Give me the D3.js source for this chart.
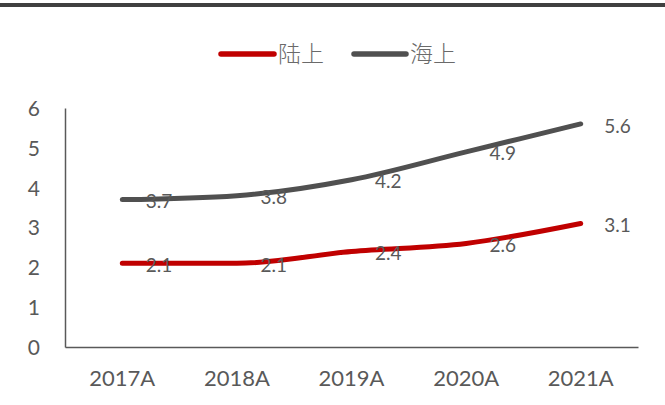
<!DOCTYPE html>
<html>
<head>
<meta charset="utf-8">
<script src="https://cdn.jsdelivr.net/npm/d3@7"></script>
<style>
  html, body { margin: 0; padding: 0; background: #fff; }
  svg { display: block; }
</style>
</head>
<body>
<svg id="chart" width="665" height="405"></svg>
<script>
const categories = ["2017A", "2018A", "2019A", "2020A", "2021A"];
const seriesNames = ["陆上", "海上"];
const landValues = [2.1, 2.1, 2.4, 2.6, 3.1];
const seaValues = [3.7, 3.8, 4.2, 4.9, 5.6];
const yTicks = [0, 1, 2, 3, 4, 5, 6];
const colors = ["#C00000", "#505050"];

(function () {
const svg = d3.select("#chart");
const W = 665, H = 405;
const mLeft = 65, mRight = 638, mTop = 108, mBottom = 347;
const textColor = "#595959";
const font = "Lato, 'Open Sans', sans-serif";

// top bar
svg.append("rect").attr("x", 0).attr("y", 3).attr("width", W).attr("height", 4).attr("fill", "#404040");

const x = d3.scaleBand().domain(categories).range([mLeft, mRight]);
const y = d3.scaleLinear().domain([0, 6]).range([mBottom, mTop]);

// y axis
const yAxis = svg.append("g").attr("transform", `translate(${mLeft},0)`)
  .call(d3.axisLeft(y).tickValues(yTicks).tickSize(0).tickPadding(25).tickFormat(d3.format("d")));
yAxis.select(".domain").attr("stroke", "#595959").attr("stroke-width", 1.5);
yAxis.selectAll("text").attr("fill", textColor).attr("font-size", 21).attr("font-family", font).attr("dy", "0.35em");

// x axis
const xAxis = svg.append("g").attr("transform", `translate(0,${mBottom})`)
  .call(d3.axisBottom(x).tickSize(0).tickPadding(23));
xAxis.select(".domain").attr("stroke", "#595959").attr("stroke-width", 1.5);
xAxis.selectAll("text").attr("fill", textColor).attr("font-size", 22).attr("font-family", font);

const series = [landValues, seaValues];
const line = d3.line()
  .x((d, i) => x(categories[i]) + x.bandwidth() / 2)
  .y(d => y(d))
  .curve(d3.curveMonotoneX);

series.forEach((vals, si) => {
  svg.append("path").datum(vals)
    .attr("d", line)
    .attr("fill", "none")
    .attr("stroke", colors[si])
    .attr("stroke-width", 5)
    .attr("stroke-linecap", "round")
    .attr("stroke-linejoin", "round");
});

series.forEach((vals, si) => {
  svg.append("g").selectAll("text").data(vals).join("text")
    .attr("x", (d, i) => x(categories[i]) + x.bandwidth() / 2 + 23.5)
    .attr("y", d => y(d) + 2)
    .attr("dy", "0.35em")
    .attr("fill", textColor)
    .attr("font-size", 19)
    .attr("font-family", font)
    .text(d => d3.format(".1f")(d));
});

// legend
const legendItems = [
  { name: seriesNames[0], color: colors[0], x1: 221, x2: 274, tx: 278 },
  { name: seriesNames[1], color: colors[1], x1: 354, x2: 406, tx: 410 }
];
const lg = svg.append("g");
legendItems.forEach(it => {
  lg.append("line").attr("x1", it.x1).attr("x2", it.x2).attr("y1", 54).attr("y2", 54)
    .attr("stroke", it.color).attr("stroke-width", 5.5).attr("stroke-linecap", "round");
  lg.append("text").attr("x", it.tx).attr("y", 54).attr("dy", "0.36em")
    .attr("fill", "#6a6a6a").attr("font-size", 23)
    .attr("font-family", "'Noto Sans CJK SC', sans-serif").attr("font-weight", 300)
    .text(it.name);
});
})();
</script>
</body>
</html>
